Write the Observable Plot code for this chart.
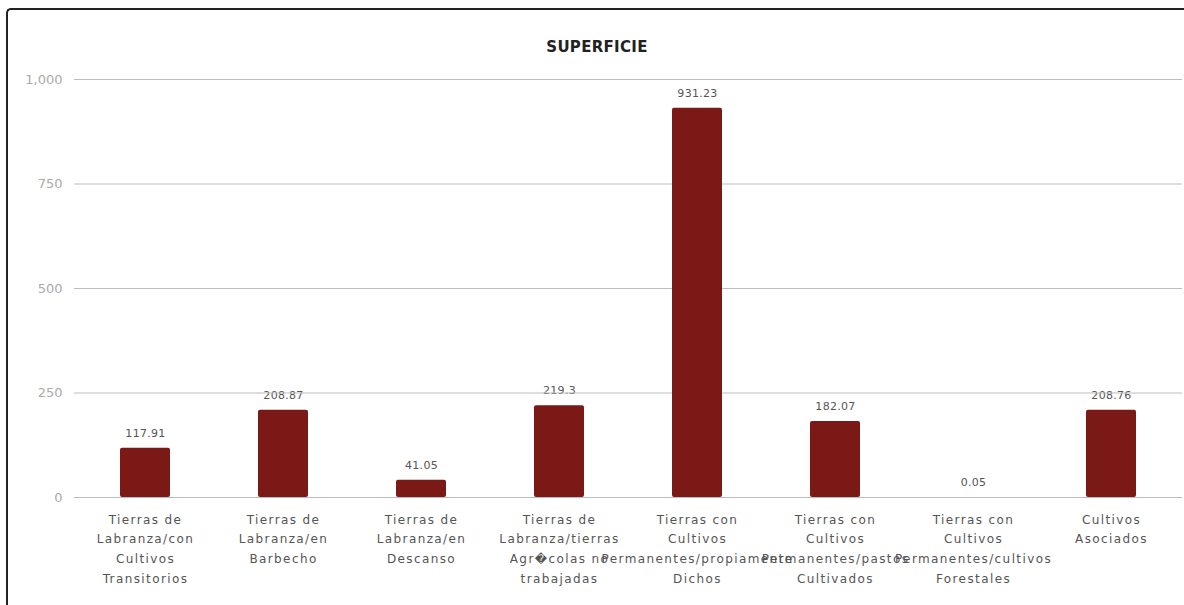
<!DOCTYPE html>
<html>
<head>
<meta charset="utf-8">
<script src="https://cdn.jsdelivr.net/npm/d3@7"></script>
<script src="https://cdn.jsdelivr.net/npm/@observablehq/plot@0.6"></script>
<style>
  html, body { margin: 0; padding: 0; background: #fff; }
  #wrap { position: relative; width: 1184px; height: 605px; overflow: hidden; }
  #frame { position: absolute; left: 6px; top: 8px; width: 1300px; height: 700px;
           border-top: 2px solid #222; border-left: 2px solid #222; border-top-left-radius: 5px; box-sizing: border-box; }
  #title { position: absolute; left: 0; top: 38px; width: 1194px; text-align: center;
           font-family: "DejaVu Sans", sans-serif; font-weight: bold; font-size: 15px; color: #222; letter-spacing: 0.3px; }
  #chart { position: absolute; left: 0; top: 60px; }
  #chart g[aria-label="x-axis tick label"] text { letter-spacing: 1.4px; }
  #chart g[aria-label="text"] text { letter-spacing: 0.3px; }
</style>
</head>
<body>
<div id="wrap">
  <div id="frame"></div>
  <div id="title">SUPERFICIE</div>
  <div id="chart"></div>
</div>
<script>
const categories = [
  "Tierras de Labranza/con Cultivos Transitorios",
  "Tierras de Labranza/en Barbecho",
  "Tierras de Labranza/en Descanso",
  "Tierras de Labranza/tierras Agr\uFFFDcolas no trabajadas",
  "Tierras con Cultivos Permanentes/propiamente Dichos",
  "Tierras con Cultivos Permanentes/pastos Cultivados",
  "Tierras con Cultivos Permanentes/cultivos Forestales",
  "Cultivos Asociados"
];
const tickLabels = [
  "Tierras de\nLabranza/con\nCultivos\nTransitorios",
  "Tierras de\nLabranza/en\nBarbecho",
  "Tierras de\nLabranza/en\nDescanso",
  "Tierras de\nLabranza/tierras\nAgr\uFFFDcolas no\ntrabajadas",
  "Tierras con\nCultivos\nPermanentes/propiamente\nDichos",
  "Tierras con\nCultivos\nPermanentes/pastos\nCultivados",
  "Tierras con\nCultivos\nPermanentes/cultivos\nForestales",
  "Cultivos\nAsociados"
];
const values = [117.91, 208.87, 41.05, 219.3, 931.23, 182.07, 0.05, 208.76];
const valueLabels = ["117.91", "208.87", "41.05", "219.3", "931.23", "182.07", "0.05", "208.76"];
const yTicks = [0, 250, 500, 750, 1000];

const data = categories.map((c, i) => ({category: c, value: values[i], label: tickLabels[i], text: valueLabels[i]}));
const labelOf = new Map(data.map(d => [d.category, d.label]));

const chart = Plot.plot({
  width: 1184,
  height: 545,
  marginLeft: 74,
  marginRight: 2,
  marginTop: 19,
  marginBottom: 108,
  style: {fontFamily: "DejaVu Sans, sans-serif", background: "transparent"},
  x: {domain: categories, paddingInner: 0.64, paddingOuter: 0.32, axis: null},
  y: {domain: [0, 1000], axis: null},
  marks: [
    Plot.text(data, {
      x: "category", y: "value", text: "text",
      dy: -15, fontSize: 11, fill: "#555"
    }),
    Plot.ruleY(yTicks, {stroke: "#bdbdbd", strokeWidth: 1}),
    Plot.barY(data, {x: "category", y: "value", fill: "#7a1916", rx: 2}),
    Plot.axisY({
      ticks: yTicks, tickSize: 0, tickPadding: 12, tickFormat: d3.format(","),
      fontSize: 13, fill: "#aaa", label: null
    }),
    Plot.axisX({
      tickSize: 0, tickPadding: 12, tickFormat: d => labelOf.get(d),
      fontSize: 12, lineHeight: 1.65, fill: "#555", label: null
    })
  ]
});
document.getElementById("chart").appendChild(chart);
</script>
</body>
</html>
